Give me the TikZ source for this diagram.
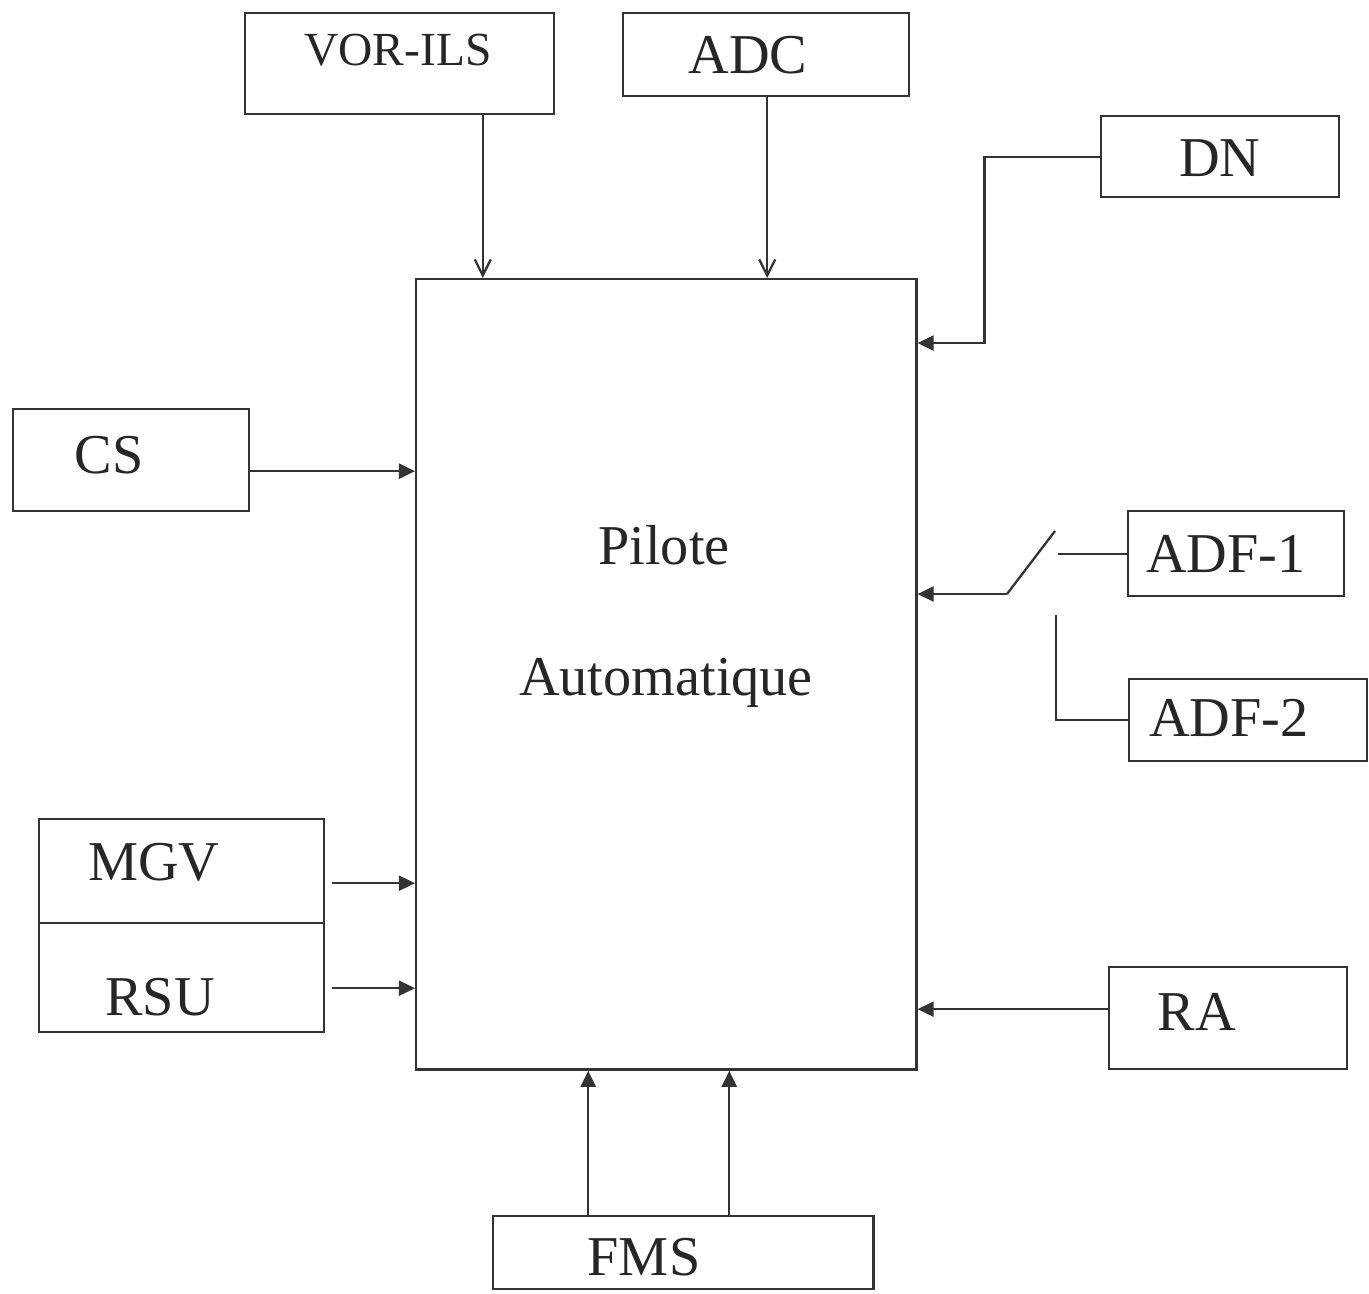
\documentclass[tikz,border=0pt]{standalone}
\usepackage{fontspec}
\setmainfont{Liberation Serif}
\usetikzlibrary{arrows.meta, positioning}

\tikzset{
	blk/.style={draw=black!80, line width=0.65pt, rectangle, inner sep=0pt, anchor=north west},
	lbl/.style={font=\fontsize{16}{19}\selectfont, text=black!85, inner sep=0pt},
	wire/.style={draw=black!80, line width=0.65pt},
	sig/.style={wire, -{Triangle[length=1.6mm,width=1.5mm]}},
	barb/.style={wire, -{Straight Barb[length=1.6mm,width=1.6mm]}}
}

\begin{document}
\begin{tikzpicture}[x=0.01cm, y=-0.01cm]

		\useasboundingbox (0,0) rectangle (1369,1293);

		\node[blk, minimum width=5.0cm, minimum height=7.9cm] (ap) at (415,278) {};
		\node[blk, minimum width=3.09cm, minimum height=1.01cm] (vor) at (244,12) {};
		\node[blk, minimum width=2.86cm, minimum height=0.83cm] (adc) at (622,12) {};
		\node[blk, minimum width=2.38cm, minimum height=0.81cm] (dn) at (1100,115) {};
		\node[blk, minimum width=2.36cm, minimum height=1.02cm] (cs) at (12,408) {};
		\node[blk, minimum width=2.16cm, minimum height=0.85cm] (adf1) at (1127,510) {};
		\node[blk, minimum width=2.38cm, minimum height=0.82cm] (adf2) at (1128,678) {};
		\node[blk, minimum width=2.85cm, minimum height=1.04cm] (mgv) at (38,818) {};
		\node[blk, minimum width=2.85cm, minimum height=1.09cm] (rsu) at (38,922) {};
		\node[blk, minimum width=2.38cm, minimum height=1.02cm] (ra) at (1108,966) {};
		\node[blk, minimum width=3.80cm, minimum height=0.73cm] (fms) at (492,1215) {};

		\node[lbl, font=\fontsize{13.5}{16}\selectfont] (vorT) at (398,50) {VOR-ILS};
		\node[lbl] (adcT) at (748,55) {ADC};
		\node[lbl] (dnT) at (1220,158) {DN};
		\node[lbl] (csT) at (109,455) {CS};
		\node[lbl] (pilT) at (664,545) {Pilote};
		\node[lbl] (autoT) at (666,683) {Automatique};
		\node[lbl] (adf1T) at (1226,554) {ADF-1};
		\node[lbl] (adf2T) at (1229,718) {ADF-2};
		\node[lbl] (mgvT) at (154,862) {MGV};
		\node[lbl] (rsuT) at (160,997) {RSU};
		\node[lbl] (raT) at (1197,1012) {RA};
		\node[lbl] (fmsT) at (644,1257) {FMS};

		\coordinate (swTop) at (1055,531);
		\coordinate (swBot) at (1007,594);
		\coordinate (swIn) at (1058,552);
		\coordinate (swAlt) at (1056,615);

		\draw[barb] ([xshift=8.3mm]vor.south) -- ([xshift=8.3mm]vor.south |- ap.north);
		\draw[barb] ([xshift=0.1mm]adc.south) -- ([xshift=0.1mm]adc.south |- ap.north);
		\draw[sig] (dn.west) -| ([xshift=6.7mm,yshift=-6.5mm]ap.north east) -- ([yshift=-6.5mm]ap.north east);
		\draw[sig] ([yshift=-1.1mm]cs.east) -- ([yshift=-1.1mm]cs.east -| ap.west);
		\draw[sig, line width=0.5pt] ([xshift=0.7mm,yshift=-1.2mm]mgv.east) -- ([yshift=-1.2mm]mgv.east -| ap.west);
		\draw[sig, line width=0.5pt] ([xshift=0.7mm,yshift=-1.05mm]rsu.east) -- ([yshift=-1.05mm]rsu.east -| ap.west);
		\draw[wire] (adf1.west) -- (adf1.west -| swIn);
		\draw[wire] (swTop) -- (swBot);
		\draw[sig] (swBot) -- (swBot -| ap.east);
		\draw[wire] (adf2.west) -| (swAlt);
		\draw[sig] ([yshift=0.9mm]ra.west) -- ([yshift=0.9mm]ra.west -| ap.east);
		\draw[sig] ([xshift=-9.5mm]fms.north) -- ([xshift=-9.5mm]fms.north |- ap.south);
		\draw[sig] ([xshift=4.6mm]fms.north) -- ([xshift=4.6mm]fms.north |- ap.south);

\end{tikzpicture}
\end{document}
